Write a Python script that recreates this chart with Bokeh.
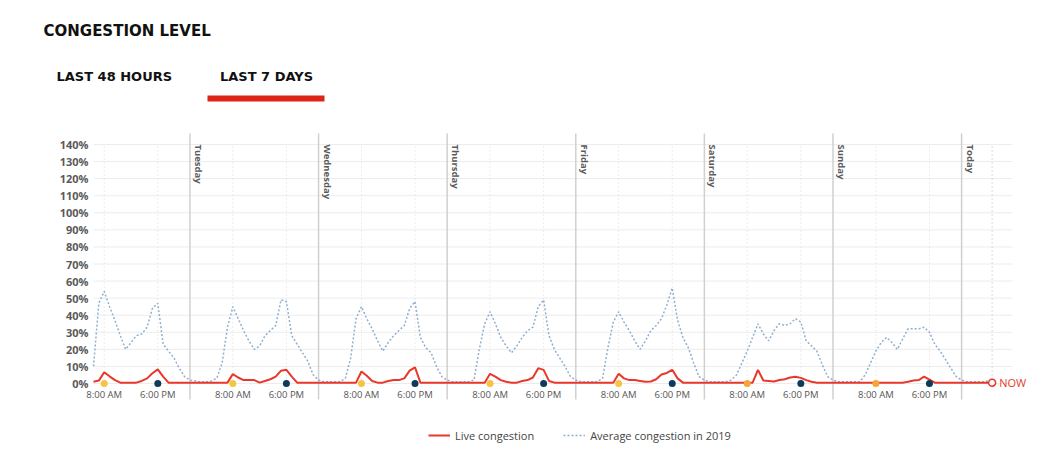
import numpy as np
from bokeh.plotting import figure
from bokeh.models import (ColumnDataSource, FixedTicker, Label, BoxAnnotation,
                          Legend, LegendItem, Range1d)
from bokeh.core.properties import value
from bokeh.embed import file_html
from bokeh.resources import INLINE

# ---------------- data ----------------
day_labels = ["Tuesday", "Wednesday", "Thursday", "Friday", "Saturday", "Sunday", "Today"]
start_hour = 6          # Monday 06:00 (hours counted from Monday 00:00)
now_hour = 173.7        # Today ~05:40
end_hour = 177.5

# average congestion in 2019 (%), hourly
avg_mon = [10, 47, 54, 45, 37, 28, 20, 24, 28, 29, 33, 44, 47, 23, 19, 15, 9, 4]  # 06..23
avg_tue = [2, 1.5, 1, 1, 1.5, 3, 12, 33, 45, 38, 31, 25, 20, 22, 28, 31, 34, 49, 48, 28, 23, 18, 13, 5]
avg_wed = [2, 1, 1, 1, 1, 3, 15, 38, 45, 38, 32, 25, 19, 24, 28, 31, 34, 44, 48, 27, 21, 18, 10, 4]
avg_thu = [2, 1, 1, 1, 1, 2, 20, 35, 42, 35, 27, 22, 18, 22, 27, 31, 33, 45, 49, 28, 20, 15, 10, 4]
avg_fri = [2, 1, 1, 1, 1, 3, 21, 36, 42, 36, 31, 25, 20, 25, 31, 34, 38, 46, 56, 37, 27, 21, 12, 4]
avg_sat = [2, 1, 1, 1, 1, 2, 5, 12, 19, 27, 35, 29, 25, 31, 35, 34, 35, 38, 36, 25, 22, 19, 11, 4]
avg_sun = [2, 1, 1, 1, 1, 1, 5, 12, 19, 24, 27, 24, 20, 26, 32, 32, 32, 33, 30, 23, 19, 14, 9, 4]
avg_today = [2, 1, 1, 1, 1, 1.5]   # 00..05
avg_now = 2

# live congestion (%), hourly
live_mon = [1, 1.7, 6.6, 4.2, 2, 0.5, 0.5, 0.5, 0.5, 1.5, 3, 6, 8.3, 4, 0.5, 0.5, 0.5, 0.5]  # 06..23
live_tue = [0.5, 0.5, 0.5, 0.5, 0.5, 0.5, 0.5, 0.5, 5.5, 3.5, 2, 2, 2, 0.5, 1.5, 2.5, 4, 7.5, 8, 4, 0.5, 0.5, 0.5, 0.5]
live_wed = [0.5, 0.5, 0.5, 0.5, 0.5, 0.5, 0.5, 0.5, 7, 4.5, 1.5, 0.5, 0.5, 1.5, 2, 2, 3, 7.5, 9.5, 0.5, 0.5, 0.5, 0.5, 0.5]
live_thu = [0.5, 0.5, 0.5, 0.5, 0.5, 0.5, 0.5, 0.5, 5.7, 4, 2, 1, 0.5, 0.5, 1.5, 2, 3.5, 9, 8, 1.5, 0.5, 0.5, 0.5, 0.5]
live_fri = [0.5, 0.5, 0.5, 0.5, 0.5, 0.5, 0.5, 0.5, 5.7, 3, 2, 2, 1.5, 1, 1.2, 2.5, 5.3, 6.2, 8, 3, 0.5, 0.5, 0.5, 0.5]
live_sat = [0.5, 0.5, 0.5, 0.5, 0.5, 0.5, 0.5, 0.5, 0.5, 0.5, 8, 1.8, 1.5, 1.2, 2, 2.5, 3.5, 4, 3.3, 2, 1, 0.5, 0.5, 0.5]
live_sun = [0.5, 0.5, 0.5, 0.5, 0.5, 0.5, 0.5, 0.5, 0.5, 0.5, 0.5, 0.5, 0.5, 0.5, 1, 1.8, 2, 4, 2.3, 0.5, 0.5, 0.5, 0.5, 0.5]
live_today = [0.5, 0.5, 0.5, 0.5, 0.5, 0.5]
live_now = 0.5

y_ticks = [0, 10, 20, 30, 40, 50, 60, 70, 80, 90, 100, 110, 120, 130, 140]
y_tick_labels = ["0%", "10%", "20%", "30%", "40%", "50%", "60%", "70%",
                 "80%", "90%", "100%", "110%", "120%", "130%", "140%"]
tick_hours = [8, 18]
tick_texts = ["8:00 AM", "6:00 PM"]
am_dot_colors = ["#f6c343", "#f6c343", "#f6c343", "#f6c343", "#f6c343", "#f5a53a", "#f5a53a"]
pm_dot_color = "#0e3a5b"

# ---------------- assemble series ----------------
hours, avg, live = [], [], []
hours += list(range(start_hour, 24)); avg += avg_mon; live += live_mon
for d, (a, l) in enumerate(zip([avg_tue, avg_wed, avg_thu, avg_fri, avg_sat, avg_sun],
                               [live_tue, live_wed, live_thu, live_fri, live_sat, live_sun]), start=1):
    hours += [24 * d + h for h in range(24)]
    avg += a
    live += l
hours += [168 + h for h in range(len(avg_today))]; avg += avg_today; live += live_today
hours += [now_hour]; avg += [avg_now]; live += [live_now]

src = ColumnDataSource(dict(x=hours, avg=avg, live=live))

day_starts = [24 * (i + 1) for i in range(len(day_labels))]
tick_x, tick_lab, dot_x, dot_c = [], [], [], []
for d in range(7):
    for h, t in zip(tick_hours, tick_texts):
        tick_x.append(24 * d + h)
        tick_lab.append(t)
    dot_x += [24 * d + tick_hours[0], 24 * d + tick_hours[1]]
    dot_c += [am_dot_colors[d], pm_dot_color]

RED = "#e8372b"
BLUE = "#8eafd0"
W, H = 1051, 460
FL, FR = 40, 1030               # frame left / right (page px)

# ---------------- chart ----------------
PXH = (1012 - 93) / (end_hour - start_hour)     # px per hour
PXP = (383 - 144) / 140.0                       # px per percent
X0 = start_hour - (93 - FL) / PXH
X1 = start_hour + (FR - 93) / PXH
Y1 = 140 + 144 / PXP
Y0 = (383 - H) / PXP
YTOP = 140 + (144 - 133) / PXP
YDAY = (383 - 399) / PXP

p = figure(width=W, height=H, x_range=Range1d(X0, X1), y_range=Range1d(Y0, Y1),
           output_backend="svg", toolbar_location=None, title=None,
           x_axis_location=None, min_border_left=FL, min_border_right=W - FR,
           min_border_top=0, min_border_bottom=0)
p.outline_line_color = None
p.background_fill_color = "white"
p.border_fill_color = "white"
for g in p.xgrid:
    g.visible = False
for g in p.ygrid:
    g.visible = False

yax = p.yaxis[0]
yax.ticker = FixedTicker(ticks=y_ticks)
yax.major_label_overrides = {t: s for t, s in zip(y_ticks, y_tick_labels)}
yax.axis_line_color = None
yax.major_tick_line_color = None
yax.minor_tick_line_color = None
yax.major_tick_out = 0
yax.major_tick_in = 0
yax.major_label_standoff = -(88 - FL)
yax.major_label_text_font = "Open Sans"
yax.major_label_text_font_style = "bold"
yax.major_label_text_font_size = "11px"
yax.major_label_text_color = "#5a5a5a"

# horizontal grid
p.segment(x0=[start_hour] * len(y_ticks), y0=y_ticks, x1=[end_hour] * len(y_ticks), y1=y_ticks,
          line_color="#ececec", line_width=1)
# vertical dotted guides at 8 AM / 6 PM
p.segment(x0=tick_x, y0=[0] * len(tick_x), x1=tick_x, y1=[140] * len(tick_x),
          line_color="#d9d9d9", line_dash="1 3", line_width=1)
# day separators
p.segment(x0=day_starts, y0=[YDAY] * len(day_starts), x1=day_starts, y1=[YTOP] * len(day_starts),
          line_color="#d0d0d0", line_width=1.5)
# now guide
p.segment(x0=[now_hour], y0=[0], x1=[now_hour], y1=[140], line_color="#b8b8b8",
          line_dash="1 3", line_width=1)

p.text(x=day_starts, y=[140] * len(day_starts), text=day_labels, angle=-np.pi / 2,
       x_offset=2, text_align="left", text_baseline="bottom",
       text_font=value("Open Sans"), text_font_style="bold", text_font_size="9.5px",
       text_color="#5a5a5a")

p.text(x=tick_x, y=[-6.2] * len(tick_x), text=tick_lab, text_align="center",
       text_baseline="middle", text_font=value("Open Sans"), text_font_size="9.5px",
       text_color="#555555")

avg_r = p.line("x", "avg", source=src, line_color=BLUE, line_width=1.5, line_dash="2 2")
live_r = p.line("x", "live", source=src, line_color=RED, line_width=2)

p.scatter(x=dot_x, y=[0] * len(dot_x), size=7, fill_color=dot_c, line_color=None)
p.scatter(x=[now_hour], y=[live_now], size=7, fill_color="white", line_color=RED, line_width=1.5)

p.add_layout(Label(x=now_hour, y=live_now, text="NOW", x_offset=7, text_baseline="middle",
                   text_color=RED, text_font="Open Sans", text_font_size="11px"))

# header (screen units: from frame bottom-left)
p.add_layout(Label(x=43 - FL, y=H - 30, x_units="screen", y_units="screen", text="CONGESTION LEVEL",
                   text_font="DejaVu Sans", text_font_style="bold", text_font_size="15px",
                   text_baseline="middle", text_color="#111111"))
p.add_layout(Label(x=56 - FL, y=H - 75.5, x_units="screen", y_units="screen", text="LAST 48 HOURS",
                   text_font="DejaVu Sans", text_font_style="bold", text_font_size="13px",
                   text_baseline="middle", text_color="#111111"))
p.add_layout(Label(x=219.5 - FL, y=H - 75.5, x_units="screen", y_units="screen", text="LAST 7 DAYS",
                   text_font="DejaVu Sans", text_font_style="bold", text_font_size="13px",
                   text_baseline="middle", text_color="#111111"))
p.add_layout(BoxAnnotation(left=207 - FL, right=324 - FL, bottom=H - 101, top=H - 95,
                           left_units="screen", right_units="screen",
                           bottom_units="screen", top_units="screen",
                           fill_color="#dc2419", fill_alpha=1, line_color=None))

legend = Legend(items=[LegendItem(label="Live congestion", renderers=[live_r]),
                       LegendItem(label="Average congestion in 2019", renderers=[avg_r])],
                location=(428 - FL, H - 443), orientation="horizontal", glyph_width=22,
                glyph_height=16, label_height=16, label_standoff=5, spacing=29, padding=0,
                margin=0, border_line_alpha=0, background_fill_alpha=0,
                label_text_font="Open Sans", label_text_font_size="11px",
                label_text_color="#444444")
p.add_layout(legend)

open("out.html", "w").write(file_html(p, INLINE))
